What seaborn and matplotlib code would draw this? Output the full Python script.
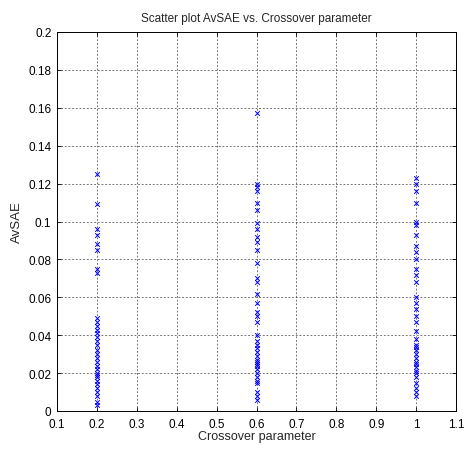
import numpy as np
import pandas as pd
import matplotlib
matplotlib.use("Agg")
import matplotlib.pyplot as plt
import seaborn as sns

# AvSAE results per crossover setting
avsae_02 = [0.125, 0.109, 0.096, 0.093, 0.088, 0.085, 0.075, 0.073,
            0.049, 0.047, 0.045, 0.043, 0.041, 0.039, 0.037, 0.035, 0.032,
            0.030, 0.028, 0.026, 0.024, 0.022, 0.020, 0.019, 0.018, 0.016,
            0.014, 0.012, 0.010, 0.008, 0.005, 0.003]
avsae_06 = [0.157, 0.120, 0.118, 0.116, 0.110, 0.106, 0.099, 0.096, 0.092,
            0.089, 0.085, 0.078, 0.070, 0.068, 0.062, 0.057, 0.052, 0.050,
            0.047, 0.040, 0.037, 0.035, 0.033, 0.031, 0.029, 0.027, 0.026,
            0.025, 0.024, 0.022, 0.020, 0.018, 0.016, 0.015, 0.010, 0.008, 0.006]
avsae_10 = [0.123, 0.120, 0.116, 0.110, 0.100, 0.098, 0.093, 0.087, 0.084,
            0.080, 0.075, 0.072, 0.068, 0.060, 0.057, 0.054, 0.050, 0.047,
            0.042, 0.038, 0.035, 0.034, 0.032, 0.030, 0.028, 0.026, 0.025,
            0.023, 0.021, 0.020, 0.018, 0.015, 0.012, 0.010, 0.008]
crossover_values = [0.2, 0.6, 1.0]

x_ticks = [0.1, 0.2, 0.3, 0.4, 0.5, 0.6, 0.7, 0.8, 0.9, 1.0, 1.1]
x_tick_labels = ["0.1", "0.2", "0.3", "0.4", "0.5", "0.6", "0.7", "0.8", "0.9", "1", "1.1"]
y_ticks = [0, 0.02, 0.04, 0.06, 0.08, 0.1, 0.12, 0.14, 0.16, 0.18, 0.2]
y_tick_labels = ["0", "0.02", "0.04", "0.06", "0.08", "0.1", "0.12", "0.14", "0.16", "0.18", "0.2"]

df = pd.DataFrame({
    "crossover": np.concatenate([[c] * len(v) for c, v in
                                 zip(crossover_values, [avsae_02, avsae_06, avsae_10])]),
    "avsae": np.concatenate([avsae_02, avsae_06, avsae_10]),
})

sns.set_style("white")
plt.rcParams["font.family"] = ["Liberation Sans", "DejaVu Sans"]

fig = plt.figure(figsize=(4.65, 4.52), dpi=100)
ax = fig.add_axes([57 / 465, 40 / 452, 399 / 465, 379 / 452])

sns.scatterplot(data=df, x="crossover", y="avsae", marker="x", color="#0000ff",
                s=11, linewidth=0.7, ax=ax, legend=False, zorder=3)

ax.set_xlim(0.1, 1.1)
ax.set_ylim(0, 0.2)
ax.set_xticks(x_ticks)
ax.set_xticklabels(x_tick_labels)
ax.set_yticks(y_ticks)
ax.set_yticklabels(y_tick_labels)

ax.grid(True, color="#333333", linestyle=(0, (2.2, 2.2)), linewidth=0.6, alpha=0.8)
ax.set_axisbelow(True)
ax.tick_params(direction="in", length=3, width=0.6, colors="black", labelsize=8.5,
               top=True, right=True, bottom=True, left=True)
ax.tick_params(axis="x", pad=5)
ax.tick_params(axis="y", pad=4)
for sp in ax.spines.values():
    sp.set_color("black")
    sp.set_linewidth(0.7)

ax.set_xlabel("Crossover parameter", fontsize=9, labelpad=0)
ax.set_ylabel("AvSAE", fontsize=9.5, labelpad=4)
ax.set_title("Scatter plot AvSAE vs. Crossover parameter", fontsize=8.5, pad=8)

fig.savefig("out.png", dpi=100, facecolor="white")
